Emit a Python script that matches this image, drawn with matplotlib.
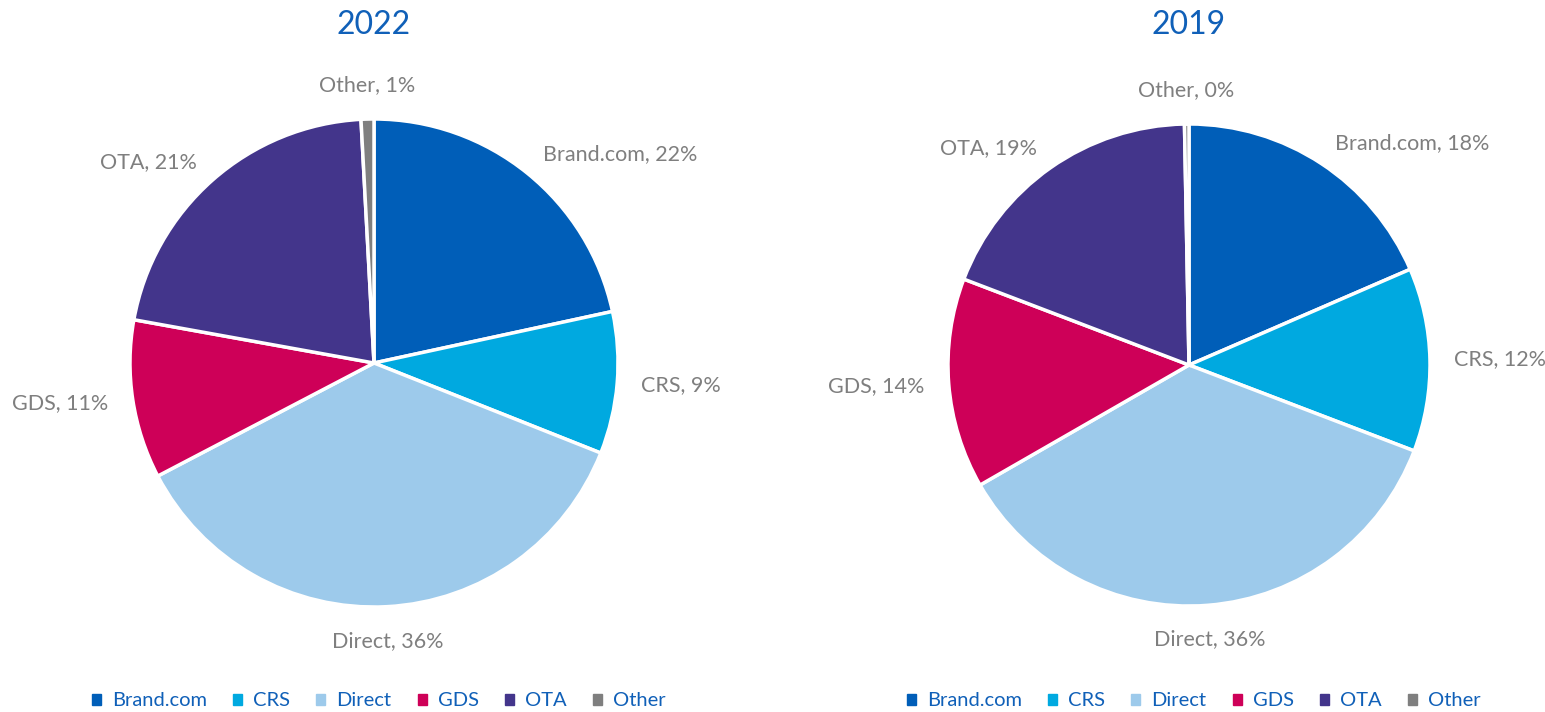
import numpy as np
import matplotlib
matplotlib.use('Agg')
import matplotlib.pyplot as plt
from matplotlib.patches import Patch

plt.rcParams['font.family'] = ['Lato', 'DejaVu Sans']

# channel share of bookings
channels = ['Brand.com', 'CRS', 'Direct', 'GDS', 'OTA', 'Other']
share_2022 = [21.6, 9.4, 36.3, 10.5, 21.3, 0.85]
share_2019 = [18.5, 12.3, 35.9, 14.1, 18.9, 0.3]
label_pct_2022 = [22, 9, 36, 11, 21, 1]
label_pct_2019 = [18, 12, 36, 14, 19, 0]

colors = ['#005EB8', '#00A9E0', '#9DCAEB', '#CE0058', '#43358B', '#7F7F7F']
title_color = '#1060B8'
label_color = '#7F7F7F'

fig = plt.figure(figsize=(15.45, 7.12), dpi=100)
W, H = 1545, 712


def draw_pie(cx, cy, r, values, pcts, title):
    ax = fig.add_axes([(cx - r) / W, (H - cy - r) / H, 2 * r / W, 2 * r / H])
    labels = [f'{c}, {p}%' for c, p in zip(channels, pcts)]
    wedges, texts = ax.pie(values, labels=labels, colors=colors, startangle=90,
                           counterclock=False, labeldistance=1.1,
                           wedgeprops=dict(edgecolor='white', linewidth=2.5),
                           textprops=dict(color=label_color, fontsize=15.5))
    for t in texts:
        x, y = t.get_position()
        if abs(x) < 0.3:
            t.set_ha('center')
            t.set_va('bottom' if y > 0 else 'top')
    ax.set_xlim(-1, 1)
    ax.set_ylim(-1, 1)
    ax.set_aspect('equal')
    ax.axis('off')
    fig.text(cx / W, 1 - 25 / H, title, ha='center', va='center',
             fontsize=23, color=title_color)
    handles = [Patch(color=c, label=n) for c, n in zip(colors, channels)]
    fig.legend(handles=handles, loc='center', ncol=6, frameon=False,
               bbox_to_anchor=(cx / W + 0.003, 1 - 701 / H),
               handlelength=0.45, handleheight=0.45, handletextpad=0.55,
               columnspacing=1.3, fontsize=14.5, labelcolor=title_color)


draw_pie(374, 363, 244, share_2022, label_pct_2022, '2022')
draw_pie(1189, 365, 241, share_2019, label_pct_2019, '2019')

plt.savefig('out.png', dpi=100)
